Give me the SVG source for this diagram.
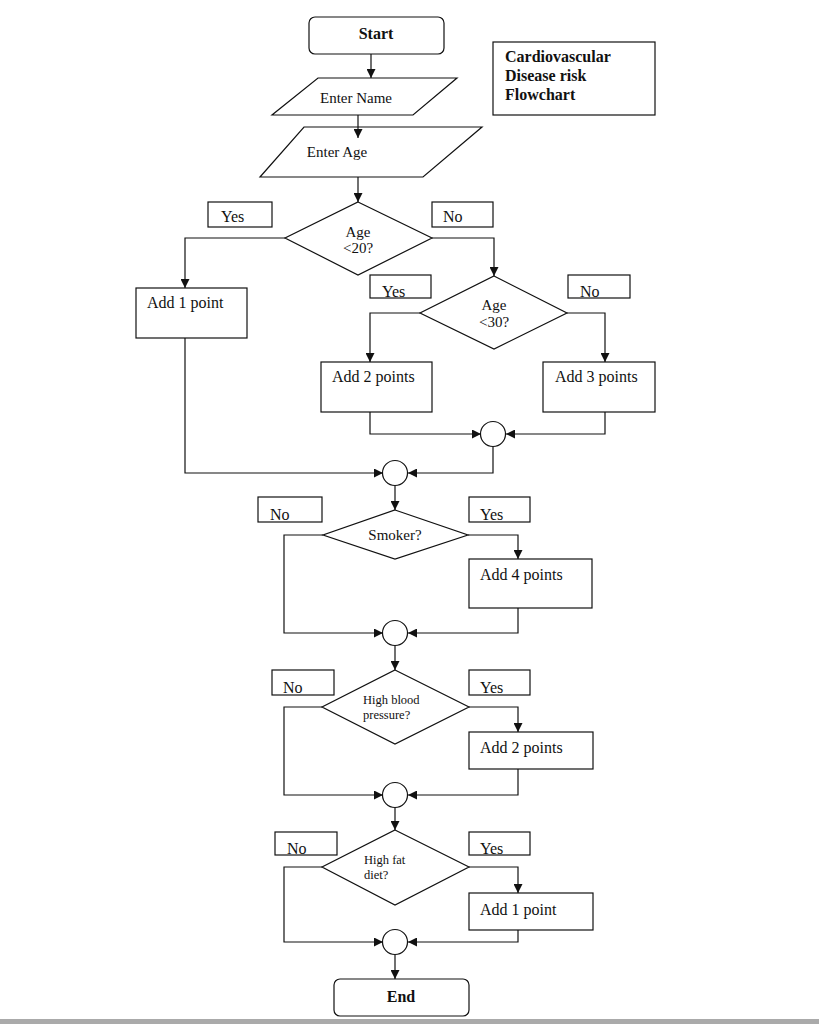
<svg xmlns="http://www.w3.org/2000/svg" width="819" height="1024" viewBox="0 0 819 1024">
<style>
.s{fill:#fff;stroke:#111;stroke-width:1.2}
.c{fill:none;stroke:#111;stroke-width:1.2}
.t{font-family:"Liberation Serif","Times New Roman",serif;font-size:16px;fill:#111}
.b{font-weight:bold}
.m{text-anchor:middle}
.d{font-size:15px}
.sm{font-size:12.5px}
</style>
<defs>
<marker id="ah" viewBox="0 0 10 10" refX="10" refY="5" markerWidth="9" markerHeight="9" markerUnits="userSpaceOnUse" orient="auto">
<path d="M0,0 L10,5 L0,10 z" fill="#111"/>
</marker>
<clipPath id="k1"><rect x="370" y="275" width="61" height="22.4"/></clipPath>
<clipPath id="k2"><rect x="568" y="275" width="62" height="22.4"/></clipPath>
<clipPath id="k3"><rect x="258" y="497" width="64" height="24.4"/></clipPath>
<clipPath id="k4"><rect x="469" y="497" width="61" height="24.4"/></clipPath>
<clipPath id="k5"><rect x="272" y="670" width="62" height="24.4"/></clipPath>
<clipPath id="k6"><rect x="469" y="670" width="61" height="24.4"/></clipPath>
<clipPath id="k7"><rect x="275" y="832" width="62" height="22.4"/></clipPath>
<clipPath id="k8"><rect x="469" y="832" width="61" height="22.4"/></clipPath>
</defs>
<rect width="819" height="1024" fill="#fff"/>

<g id="start"><rect class="s" x="309" y="17" width="135" height="37" rx="6"/><text class="t b m" x="376" y="39">Start</text></g>
<g id="title"><rect class="s" x="493" y="42" width="162" height="73"/>
<text class="t b" x="505" y="62">Cardiovascular</text><text class="t b" x="505" y="81">Disease risk</text><text class="t b" x="505" y="100">Flowchart</text></g>
<g id="enter-name"><path class="s" d="M318,78 H457 L413,115 H272 Z"/><text class="t d m" x="356" y="103">Enter Name</text></g>
<g id="enter-age"><path class="s" d="M304,127 H482 L423,177 H260 Z"/><text class="t d m" x="337" y="157">Enter Age</text></g>
<g id="age20"><path class="s" d="M358,202 L432,238 L358,275 L285,238 Z"/><text class="t d m" x="358" y="237">Age</text><text class="t d m" x="358" y="253">&lt;20?</text></g>
<g id="yes1"><rect class="s" x="208" y="202" width="64" height="25"/><text class="t" x="221" y="222">Yes</text></g>
<g id="no1"><rect class="s" x="432" y="202" width="61" height="25"/><text class="t" x="443" y="222">No</text></g>
<g id="add1"><rect class="s" x="136" y="288" width="111" height="50"/><text class="t" x="147" y="308">Add 1 point</text></g>
<g id="age30"><path class="s" d="M494,276 L567,313 L494,349 L420,313 Z"/><text class="t d m" x="494" y="310">Age</text><text class="t d m" x="494" y="327">&lt;30?</text></g>
<g id="yes2"><rect class="s" x="370" y="275" width="61" height="23"/><text class="t" x="382" y="297" clip-path="url(#k1)">Yes</text></g>
<g id="no2"><rect class="s" x="568" y="275" width="62" height="23"/><text class="t" x="580" y="297" clip-path="url(#k2)">No</text></g>
<g id="add2"><rect class="s" x="321" y="362" width="111" height="50"/><text class="t" x="332" y="382">Add 2 points</text></g>
<g id="add3"><rect class="s" x="543" y="362" width="112" height="50"/><text class="t" x="555" y="382">Add 3 points</text></g>
<g id="j1"><circle class="s" cx="493" cy="434" r="12.5"/></g>
<g id="j2"><circle class="s" cx="395" cy="473" r="12.5"/></g>
<g id="smoker"><path class="s" d="M395,510 L468,535 L395,559 L323,535 Z"/><text class="t d m" x="395" y="540">Smoker?</text></g>
<g id="no3"><rect class="s" x="258" y="497" width="64" height="25"/><text class="t" x="270" y="520" clip-path="url(#k3)">No</text></g>
<g id="yes3"><rect class="s" x="469" y="497" width="61" height="25"/><text class="t" x="480" y="520" clip-path="url(#k4)">Yes</text></g>
<g id="add4"><rect class="s" x="469" y="559" width="123" height="49"/><text class="t" x="480" y="580">Add 4 points</text></g>
<g id="j3"><circle class="s" cx="395" cy="633" r="12.5"/></g>
<g id="hbp"><path class="s" d="M395,670 L469,707 L395,744 L322,707 Z"/><text class="t sm" x="363" y="704">High blood</text><text class="t sm" x="363" y="719">pressure?</text></g>
<g id="no4"><rect class="s" x="272" y="670" width="62" height="25"/><text class="t" x="283" y="693" clip-path="url(#k5)">No</text></g>
<g id="yes4"><rect class="s" x="469" y="670" width="61" height="25"/><text class="t" x="480" y="693" clip-path="url(#k6)">Yes</text></g>
<g id="add2b"><rect class="s" x="469" y="732" width="124" height="37"/><text class="t" x="480" y="753">Add 2 points</text></g>
<g id="j4"><circle class="s" cx="395" cy="795" r="12.5"/></g>
<g id="fat"><path class="s" d="M395,830 L469,867 L395,905 L322,867 Z"/><text class="t sm" x="364" y="864">High fat</text><text class="t sm" x="364" y="879">diet?</text></g>
<g id="no5"><rect class="s" x="275" y="832" width="62" height="23"/><text class="t" x="287" y="854" clip-path="url(#k7)">No</text></g>
<g id="yes5"><rect class="s" x="469" y="832" width="61" height="23"/><text class="t" x="480" y="854" clip-path="url(#k8)">Yes</text></g>
<g id="add1b"><rect class="s" x="469" y="893" width="124" height="37"/><text class="t" x="480" y="915">Add 1 point</text></g>
<g id="j5"><circle class="s" cx="395" cy="942" r="12.5"/></g>
<g id="end"><rect class="s" x="334" y="979" width="135" height="37" rx="6"/><text class="t b m" x="401" y="1002">End</text></g>

<g id="connectors" class="c" marker-end="url(#ah)">
<path d="M371,54 V78"/>
<path d="M358,115 V138"/>
<path d="M358,177 V202"/>
<path d="M285,238 H185 V288"/>
<path d="M432,238 H494 V276"/>
<path d="M420,313 H370 V362"/>
<path d="M567,313 H605 V362"/>
<path d="M370,412 V434 H481"/>
<path d="M605,412 V434 H506"/>
<path d="M493,447 V473 H408"/>
<path d="M185,338 V473 H383"/>
<path d="M395,486 V510"/>
<path d="M323,535 H284 V633 H383"/>
<path d="M468,535 H518 V559"/>
<path d="M518,608 V633 H408"/>
<path d="M395,646 V670"/>
<path d="M322,707 H284 V795 H383"/>
<path d="M469,707 H518 V732"/>
<path d="M518,769 V795 H408"/>
<path d="M395,808 V830"/>
<path d="M322,867 H284 V942 H383"/>
<path d="M469,867 H518 V893"/>
<path d="M518,930 V942 H408"/>
<path d="M395,955 V979"/>
</g>
<rect x="0" y="1019" width="819" height="5" fill="#aaa"/>
</svg>
